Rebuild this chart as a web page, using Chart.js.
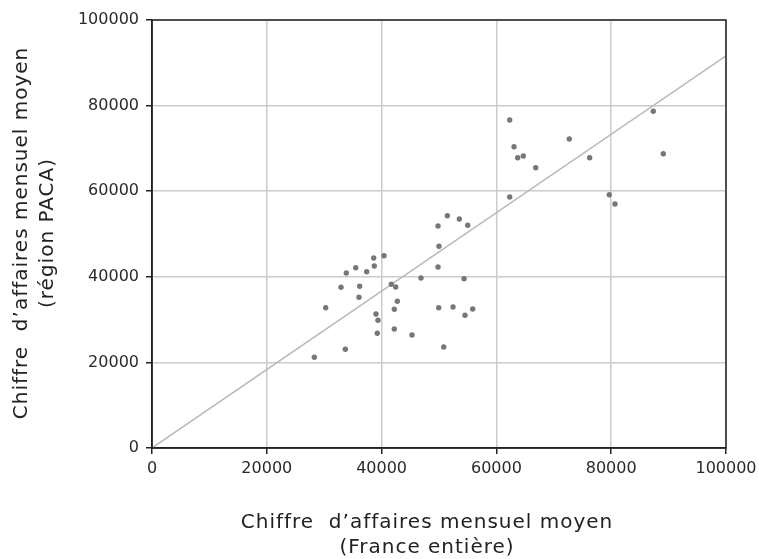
<!DOCTYPE html>
<html>
  <head>
    <script src="https://cdnjs.cloudflare.com/ajax/libs/Chart.js/4.4.1/chart.umd.min.js"></script>
    <style>
      body {
        margin: 0;
        padding: 0;
        background: #ffffff;
      }
      .chart-container {
        width: 759px;
        height: 559px;
        position: relative;
      }
    </style>
  </head>
  <body>
    <div class="chart-container">
      <canvas id="scatterChart"></canvas>
    </div>

    <script>
      // Chiffre d'affaires mensuel moyen : France entiere (x) vs region PACA (y)
      const franceValues = [
        38620, 40420, 38730, 35490, 33850, 37400, 46860, 41690, 42460, 32930,
        36180, 36060, 42740, 30260, 42210, 39020, 39370, 39250, 42210, 45300,
        33680, 28280,
        62320, 63070, 63710, 64690, 66850, 72700, 76250, 87330, 89080, 62320,
        79670, 80660, 49830, 51450, 53540, 55000, 50000, 49830, 54360, 49950,
        52440, 54530, 55870, 50820
      ];
      const pacaValues = [
        44390, 44930, 42520, 42130, 40890, 41190, 39720, 38250, 37620, 37550,
        37780, 35210, 34280, 32780, 32410, 31310, 29840, 26800, 27800, 26400,
        23060, 21190,
        76640, 70400, 67830, 68220, 65490, 72200, 67830, 78670, 68760, 58640,
        59180, 57010, 51870, 54280, 53500, 52030, 47130, 42290, 39560, 32780,
        32940, 31000, 32480, 23600
      ];

      // droite d'ajustement (passe par l'origine)
      const fitX = [0, 100000];
      const fitY = [0, 91600];

      const tickValues = [0, 20000, 40000, 60000, 80000, 100000];

      const xTitleLines = ['Chiffre  d\u2019affaires mensuel moyen', '(France enti\u00e8re)'];
      const yTitleLines = ['Chiffre  d\u2019affaires mensuel moyen', '(r\u00e9gion PACA)'];

      const titleFont = '20px "DejaVu Sans", sans-serif';

      // cadre complet + titres des axes
      const framePlugin = {
        id: 'frame',
        afterDraw(chart) {
          const ctx = chart.ctx;
          const area = chart.chartArea;
          ctx.save();
          ctx.strokeStyle = '#222222';
          ctx.lineWidth = 1.5;
          ctx.strokeRect(area.left, area.top, area.right - area.left, area.bottom - area.top);

          ctx.fillStyle = '#222222';
          ctx.font = titleFont;
          ctx.letterSpacing = '1px';
          ctx.textAlign = 'center';
          ctx.textBaseline = 'middle';
          ctx.fillText(xTitleLines[0], 427, 523);
          ctx.fillText(xTitleLines[1], 427, 548);

          ctx.translate(22, 233);
          ctx.rotate(-Math.PI / 2);
          ctx.fillText(yTitleLines[0], 0, 0);
          ctx.fillText(yTitleLines[1], 0, 26);
          ctx.restore();
        }
      };

      function buildPoints(xs, ys) {
        return xs.map((x, i) => ({ x: x, y: ys[i] }));
      }

      function axisOptions(fixSize, labelPadding) {
        return {
          type: 'linear',
          min: 0,
          max: 100000,
          afterBuildTicks: function(scale) {
            scale.ticks = tickValues.map(v => ({ value: v }));
          },
          afterFit: fixSize,
          grid: {
            color: '#cccccc',
            lineWidth: 1.5,
            tickColor: '#222222',
            tickLength: 6,
            tickWidth: 1.5
          },
          border: {
            color: '#222222',
            width: 1.5
          },
          ticks: {
            color: '#2a2a2a',
            padding: labelPadding,
            maxRotation: 0,
            font: {
              family: '"DejaVu Sans", sans-serif',
              size: 16
            },
            callback: function(value) {
              return String(value);
            }
          }
        };
      }

      function createChart() {
        const ctx = document.getElementById('scatterChart').getContext('2d');

        new Chart(ctx, {
          type: 'scatter',
          data: {
            datasets: [
              {
                label: 'Droite',
                type: 'line',
                data: buildPoints(fitX, fitY),
                borderColor: '#b3bdb8',
                borderWidth: 1.5,
                pointRadius: 0,
                fill: false,
                order: 2
              },
              {
                label: 'Magasins',
                data: buildPoints(franceValues, pacaValues),
                backgroundColor: '#777777',
                borderWidth: 0,
                pointRadius: 2.7,
                order: 1
              }
            ]
          },
          options: {
            responsive: false,
            animation: false,
            layout: {
              padding: { left: 0, top: 20, right: 33, bottom: 0 }
            },
            plugins: {
              legend: { display: false },
              tooltip: { enabled: false }
            },
            scales: {
              x: axisOptions(function(scale) {
                scale.height = 111;
                scale.paddingLeft = 0;
                scale.paddingRight = 0;
              }, 5),
              y: axisOptions(function(scale) {
                scale.width = 152;
                scale.paddingTop = 0;
                scale.paddingBottom = 0;
              }, 7)
            }
          },
          plugins: [framePlugin]
        });
      }

      const canvas = document.getElementById('scatterChart');
      canvas.width = 759;
      canvas.height = 559;
      createChart();
    </script>
  </body>
</html>
